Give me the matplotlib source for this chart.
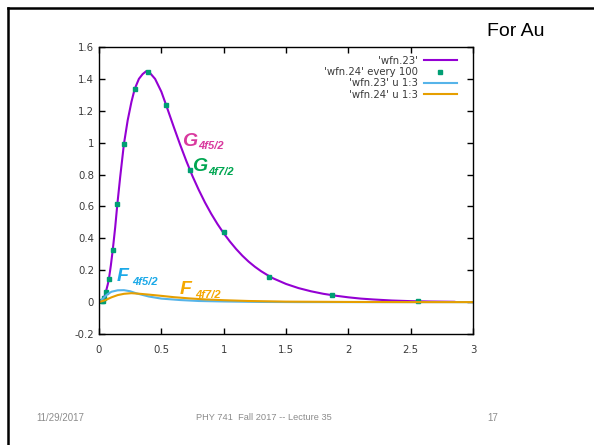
import matplotlib
matplotlib.use("Agg")
import matplotlib.pyplot as plt
from matplotlib.lines import Line2D

plt.rcParams['font.family'] = ['Liberation Sans', 'DejaVu Sans']

# G (large component), 'wfn.23'
g_x = [0, 0.02, 0.04, 0.054, 0.07, 0.08, 0.095, 0.11, 0.13, 0.147, 0.17, 0.2,
       0.23, 0.26, 0.286, 0.32, 0.35, 0.38, 0.4, 0.45, 0.5, 0.537, 0.55, 0.6, 0.65,
       0.7, 0.75, 0.8, 0.85, 0.9, 0.95, 1.0, 1.05, 1.1, 1.15, 1.2, 1.25, 1.3, 1.35,
       1.4, 1.5, 1.6, 1.7, 1.8, 1.9, 2.0, 2.1, 2.2, 2.35, 2.5, 2.65, 2.85]
g_y = [0, 0.005, 0.027, 0.061, 0.11, 0.148, 0.23, 0.325, 0.47, 0.613, 0.785, 0.992,
       1.14, 1.255, 1.336, 1.40, 1.43, 1.449, 1.445, 1.40, 1.32, 1.239, 1.21, 1.098, 0.989,
       0.886, 0.79, 0.704, 0.625, 0.554, 0.49, 0.432, 0.38, 0.333, 0.291, 0.254, 0.222, 0.194, 0.170,
       0.148, 0.114, 0.088, 0.068, 0.052, 0.040, 0.030, 0.022, 0.0166, 0.010, 0.006, 0.0037, 0.002]

# 'wfn.24' every 100
pts_x = [0.021, 0.029, 0.039, 0.054, 0.080, 0.110, 0.147, 0.200, 0.286, 0.39,
         0.537, 0.73, 1.0, 1.364, 1.87, 2.56]
pts_y = [0.004, 0.01, 0.025, 0.061, 0.148, 0.325, 0.613, 0.992, 1.336, 1.442,
         1.239, 0.83, 0.44, 0.16, 0.044, 0.004]

# F (small component)
f5_x = [0, 0.03, 0.06, 0.1, 0.15, 0.2, 0.25, 0.3, 0.4, 0.5, 0.65, 0.8, 1.0, 1.3, 1.6, 2.0, 2.5, 3.0]
f5_y = [0, 0.02, 0.045, 0.065, 0.074, 0.075, 0.068, 0.055, 0.035, 0.022, 0.013, 0.007, 0.004, 0.001, 0, 0, 0, 0]
f7_x = [0, 0.05, 0.1, 0.15, 0.2, 0.26, 0.33, 0.4, 0.49, 0.6, 0.73, 0.85, 1.0, 1.2, 1.5, 2.0, 2.5, 3.0]
f7_y = [0, 0.012, 0.03, 0.044, 0.052, 0.056, 0.052, 0.047, 0.04, 0.031, 0.023, 0.017, 0.012, 0.007, 0.003, 0.001, 0, 0]

xticks = [0, 0.5, 1, 1.5, 2, 2.5, 3]
xticklabels = ['0', '0.5', '1', '1.5', '2', '2.5', '3']
yticks = [-0.2, 0, 0.2, 0.4, 0.6, 0.8, 1, 1.2, 1.4, 1.6]
yticklabels = ['-0.2', '0', '0.2', '0.4', '0.6', '0.8', '1', '1.2', '1.4', '1.6']

W, H = 594, 445
fig = plt.figure(figsize=(W / 100, H / 100), dpi=100)
ax = fig.add_axes([99 / W, 1 - 334 / H, (473 - 99) / W, (334 - 47) / H])

ax.plot(g_x, g_y, color='#9400D3', lw=1.5, label="'wfn.23'")
ax.plot(pts_x, pts_y, ls='none', marker='s', ms=2.5, color='#009E73', label="'wfn.24' every 100")
ax.plot(f5_x, f5_y, color='#56B4E9', lw=1.5, label="'wfn.23' u 1:3")
ax.plot(f7_x, f7_y, color='#E69F00', lw=1.5, label="'wfn.24' u 1:3")

ax.set_xlim(0, 3)
ax.set_ylim(-0.2, 1.6)
ax.set_xticks(xticks)
ax.set_xticklabels(xticklabels, family='DejaVu Sans')
ax.set_yticks(yticks)
ax.set_yticklabels(yticklabels, family='DejaVu Sans')
ax.tick_params(direction='in', length=4, width=1, top=True, right=True,
               labelsize=7.3, labelcolor='#3a3a3a')
ax.tick_params(axis='x', pad=8)
ax.tick_params(axis='y', pad=3.5)
for s in ax.spines.values():
    s.set_linewidth(1)

leg = ax.legend(loc='upper right', frameon=False, markerfirst=False,
                prop={'family': 'DejaVu Sans', 'size': 7.3},
                handlelength=3.25, labelspacing=0.12, borderaxespad=0, borderpad=0,
                handletextpad=0.6, bbox_to_anchor=(0.957, 0.969))
for t in leg.get_texts():
    t.set_color('#3a3a3a')

# annotations
def label(x, y, big, sub, color):
    ax.annotate(big, (x, y), textcoords='data', fontsize=14, fontweight='bold',
                fontstyle='italic', color=color, ha='left', va='baseline')
    ax.annotate(sub, (x, y), xytext=(11, -2.5), textcoords='offset points', fontsize=8,
                fontweight='bold', fontstyle='italic', color=color, ha='left', va='baseline')

label(0.67, 0.98, 'G', '4f5/2', '#D9399E')
label(0.75, 0.82, 'G', '4f7/2', '#00A651')
label(0.14, 0.13, 'F', '4f5/2', '#1BA9E8')
label(0.65, 0.05, 'F', '4f7/2', '#F5A800')

# slide decorations
fig.add_artist(Line2D([8 / W, 1], [1 - 8 / H, 1 - 8 / H], color='black', lw=1.8))
fig.add_artist(Line2D([8 / W, 8 / W], [0, 1 - 8 / H], color='black', lw=1.8))
fig.text(487 / W, 1 - 32 / H, 'For Au', fontsize=14, ha='left', va='center', color='black')
fig.text(36 / W, 1 - 418 / H, '11/29/2017', fontsize=7, color='#8c8c8c', va='center')
fig.text(264 / W, 1 - 418 / H, 'PHY 741  Fall 2017 -- Lecture 35', fontsize=6.7,
         color='#8c8c8c', va='center', ha='center')
fig.text(498 / W, 1 - 418 / H, '17', fontsize=7, color='#8c8c8c', va='center', ha='right')

fig.savefig('out.png', dpi=100)
